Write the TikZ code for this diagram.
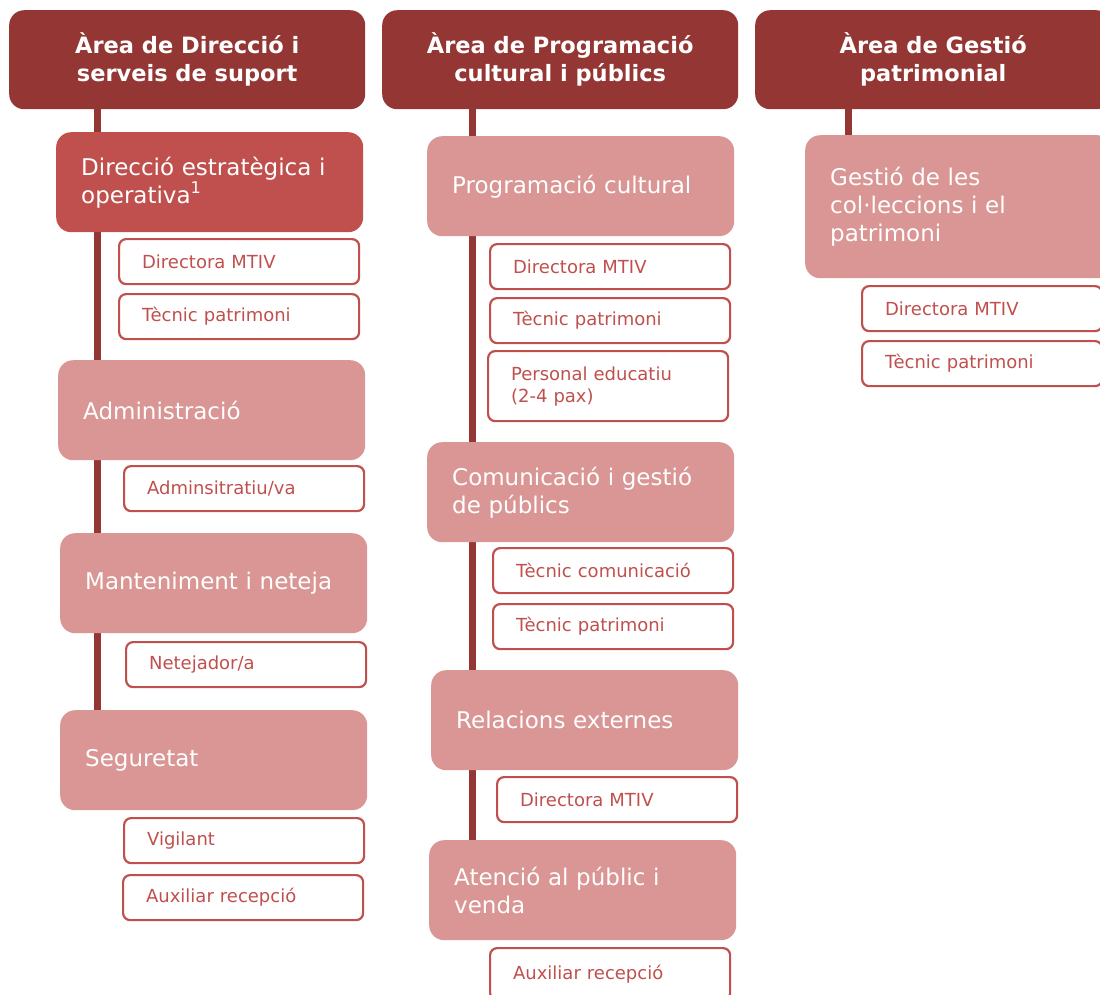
\documentclass[tikz,border=0pt]{standalone}
\usepackage{fontspec}
\setmainfont{DejaVu Sans}
\usetikzlibrary{backgrounds}
\definecolor{dkred}{RGB}{148,54,52}
\definecolor{mdred}{RGB}{192,80,77}
\definecolor{ltred}{RGB}{217,150,148}
\tikzset{
  header/.style={fill=dkred, draw=none, rounded corners=15pt, anchor=north west,
    text=white, font=\fontsize{22.5}{28}\selectfont\bfseries, align=center,
    minimum width=356pt, minimum height=99pt, inner sep=0pt},
  mainbox/.style={fill=ltred, draw=none, rounded corners=15pt, anchor=north west,
    text=white, font=\fontsize{23}{28}\selectfont, align=left,
    minimum height=100pt, inner xsep=25pt, inner ysep=0pt,
    text width=257pt},
  hibox/.style={mainbox, fill=mdred},
  smallbox/.style={fill=white, draw=mdred, line width=2.2pt, rounded corners=7pt,
    anchor=north west, text=mdred, font=\fontsize{18}{22}\selectfont, align=left,
    minimum height=45pt, inner xsep=23pt, inner ysep=0pt, text width=194pt},
  vline/.style={draw=dkred, line width=7pt},
}
\begin{document}
\begin{tikzpicture}[x=1pt,y=-1pt]
\useasboundingbox (0,0) rectangle (1100,994);
% headers
\node[header] (h1) at (9,10) {Àrea de Direcció i\\serveis de suport};
\node[header] (h2) at (382,10) {Àrea de Programació\\cultural i públics};
\node[header] (h3) at (755,10) {Àrea de Gestió\\patrimonial};
% column 1
\node[hibox] (dir) at (56,132) {Direcció estratègica i\\operativa\textsuperscript{1}};
\node[smallbox] (d1) at (118,238) {Directora MTIV};
\node[smallbox] (d2) at (118,293) {Tècnic patrimoni};
\node[mainbox] (adm) at (58,360) {Administració};
\node[smallbox] (a1) at (123,465) {Adminsitratiu/va};
\node[mainbox] (man) at (60,533) {Manteniment i neteja};
\node[smallbox] (m1) at (125,641) {Netejador/a};
\node[mainbox] (seg) at (60,710) {Seguretat};
\node[smallbox] (s1) at (123,817) {Vigilant};
\node[smallbox] (s2) at (122,874) {Auxiliar recepció};
% column 2
\node[mainbox] (prog) at (427,136) {Programació cultural};
\node[smallbox] (p1) at (489,243) {Directora MTIV};
\node[smallbox] (p2) at (489,297) {Tècnic patrimoni};
\node[smallbox, minimum height=70pt] (p3) at (487,350) {Personal educatiu\\(2-4 pax)};
\node[mainbox] (com) at (427,442) {Comunicació i gestió\\de públics};
\node[smallbox] (c1) at (492,547) {Tècnic comunicació};
\node[smallbox] (c2) at (492,603) {Tècnic patrimoni};
\node[mainbox] (rel) at (431,670) {Relacions externes};
\node[smallbox] (r1) at (496,776) {Directora MTIV};
\node[mainbox] (ate) at (429,840) {Atenció al públic i\\venda};
\node[smallbox, minimum height=52pt] (t1) at (489,947) {Auxiliar recepció};
% column 3
\node[mainbox, minimum height=143pt] (ges) at (805,135) {Gestió de les\\col·leccions i el\\patrimoni};
\node[smallbox] (g1) at (861,285) {Directora MTIV};
\node[smallbox] (g2) at (861,340) {Tècnic patrimoni};
% connectors
\begin{pgfonlayer}{background}
\fill[white] (0,0) rectangle (1100,994);
\draw[vline] ([xshift=88pt]h1.south west) -- ([xshift=88pt]h1.south west |- seg.north);
\draw[vline] ([xshift=90pt]h2.south west) -- ([xshift=90pt]h2.south west |- ate.north);
\draw[vline] ([xshift=93pt]h3.south west) -- ([xshift=93pt]h3.south west |- ges.north);
\end{pgfonlayer}
\end{tikzpicture}
\end{document}
